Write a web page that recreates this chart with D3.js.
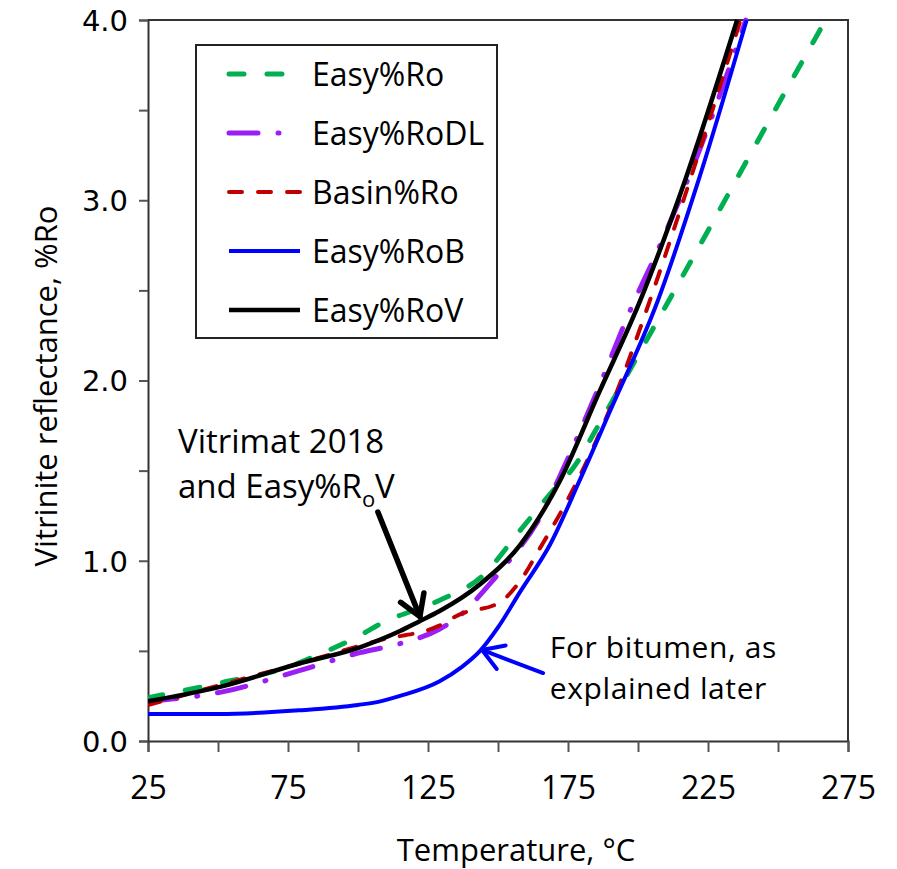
<!DOCTYPE html>
<html>
<head>
<meta charset="utf-8">
<script src="https://cdn.jsdelivr.net/npm/d3@7"></script>
<style>
  body { margin: 0; background: #fff; }
  .txt { font-family: "Open Sans", "Noto Sans", sans-serif; fill: #000; }
  .ytick text { font-family: "DejaVu Sans", Verdana, sans-serif; font-size: 29px; fill: #000; }
  .xtick text { font-family: "Open Sans", "Noto Sans", sans-serif; font-size: 32px; fill: #000; }
</style>
</head>
<body>
<div id="chart"></div>
<script>
// Curves: [temperature °C, %Ro]
var easyRo = [[25,0.24],[50,0.32],[75,0.41],[86,0.48],[100,0.58],[108,0.65],[129,0.78],[144,0.91],
    [158,1.17],[168.6,1.37],[178,1.54],[184,1.70],[204,2.25],[224.6,2.82],[244.6,3.38],[267,4.0]];
var easyRoDL = [[25,0.22],[50.7,0.27],[79,0.39],[100.7,0.49],[115,0.54],[129,0.62],[136,0.69],[147,0.87],
    [154,1.0],[165,1.24],[173,1.50],[187,2.0],[197.5,2.40],[207,2.72],[222,3.28],[238.5,4.0]];
var basinRo = [[25,0.20],[50.7,0.31],[79,0.43],[108,0.56],[129,0.64],[136,0.70],[150.7,0.77],[158,0.89],
    [165,1.07],[174.6,1.33],[182,1.56],[194,2.0],[201,2.30],[220,3.18],[236.6,4.0]];
var easyRoB = [[25,0.15],[50,0.15],[79,0.17],[100,0.20],[108,0.22],[115,0.25],[129,0.33],[137,0.41],
    [143.6,0.50],[150,0.63],[158,0.83],[168.6,1.09],[179,1.44],[190,1.83],[207,2.44],[221.6,3.11],[238.8,4.0]];
var easyRoV = [[25,0.22],[50.7,0.30],[79,0.43],[100.7,0.52],[115,0.61],[122,0.665],[129,0.72],[143.6,0.87],
    [158,1.09],[172,1.44],[186,1.93],[200.7,2.44],[216.8,3.11],[235.4,4.0]];

var seriesNames = ["Easy%Ro", "Easy%RoDL", "Basin%Ro", "Easy%RoB", "Easy%RoV"];
var xTicks = [25, 50, 75, 100, 125, 150, 175, 200, 225, 250, 275];
var xLabels = [25, 75, 125, 175, 225, 275];
var yTicks = [0, 0.5, 1, 1.5, 2, 2.5, 3, 3.5, 4];
var yLabels = [0, 1, 2, 3, 4];

var series = [
    { name: seriesNames[0], data: easyRo,   color: "#00b050", width: 5,   dash: "15,23",      sample: 71 },
    { name: seriesNames[1], data: easyRoDL, color: "#9b1ff5", width: 5,   dash: "29,20,1,20", sample: 50 },
    { name: seriesNames[2], data: basinRo,  color: "#c00000", width: 4,   dash: "13,16",      sample: 71 },
    { name: seriesNames[3], data: easyRoB,  color: "#0000ff", width: 4,   dash: null,         sample: 71 },
    { name: seriesNames[4], data: easyRoV,  color: "#000000", width: 4.5, dash: null,         sample: 71 }
];

var svgWidth = 897;
var svgHeight = 869;
var margin = { top: 20, right: 49, bottom: 128, left: 148 };
var width = svgWidth - margin.left - margin.right;
var height = svgHeight - margin.top - margin.bottom;

var svg = d3.select("#chart")
    .append("svg")
    .attr("width", svgWidth)
    .attr("height", svgHeight);

var chartGroup = svg.append("g")
    .attr("transform", `translate(${margin.left}, ${margin.top})`);

var xScale = d3.scaleLinear().domain([25, 275]).range([0, width]);
var yScale = d3.scaleLinear().domain([0, 4]).range([height, 0]);

// frame on top and right
chartGroup.append("path")
    .attr("d", `M0,0H${width}V${height}`)
    .attr("fill", "none")
    .attr("stroke", "#333")
    .attr("stroke-width", 2);

// x axis
var bottomAxis = d3.axisBottom(xScale)
    .tickValues(xTicks)
    .tickSize(11)
    .tickPadding(24)
    .tickFormat(d => xLabels.indexOf(d) >= 0 ? d : "");
chartGroup.append("g")
    .attr("class", "xtick")
    .attr("transform", `translate(0, ${height})`)
    .call(bottomAxis)
    .call(g => g.select(".domain").attr("stroke", "#333").attr("stroke-width", 2))
    .call(g => g.selectAll(".tick line").attr("stroke", "#555").attr("stroke-width", 2));

// y axis
var leftAxis = d3.axisLeft(yScale)
    .tickValues(yTicks)
    .tickSize(9)
    .tickPadding(11)
    .tickFormat(d => yLabels.indexOf(d) >= 0 ? d3.format(".1f")(d) : "");
chartGroup.append("g")
    .attr("class", "ytick")
    .call(leftAxis)
    .call(g => g.select(".domain").attr("stroke", "#333").attr("stroke-width", 2))
    .call(g => g.selectAll(".tick line").attr("stroke", "#555").attr("stroke-width", 2))
    .call(g => g.selectAll(".tick text").attr("dy", "0.36em"));

// curves
var line = d3.line()
    .x(d => xScale(d[0]))
    .y(d => yScale(d[1]))
    .curve(d3.curveMonotoneX);

svg.append("clipPath").attr("id", "plotclip")
    .append("rect").attr("x", 0).attr("y", -3).attr("width", width).attr("height", height + 3);

chartGroup.append("g")
    .attr("clip-path", "url(#plotclip)")
    .selectAll("path")
    .data(series)
    .enter()
    .append("path")
    .attr("d", s => line(s.data))
    .attr("fill", "none")
    .attr("stroke", s => s.color)
    .attr("stroke-width", s => s.width)
    .attr("stroke-linecap", s => s.dash ? "round" : "butt")
    .attr("stroke-dasharray", s => s.dash);

// legend
var legend = svg.append("g").attr("transform", "translate(196, 45)");
legend.append("rect")
    .attr("width", 301).attr("height", 293)
    .attr("fill", "#fff").attr("stroke", "#222").attr("stroke-width", 2);

var rows = legend.selectAll("g.row")
    .data(series)
    .enter()
    .append("g")
    .attr("class", "row")
    .attr("transform", (d, i) => `translate(0, ${29 + i * 59})`);

rows.append("line")
    .attr("x1", 33).attr("x2", d => 33 + d.sample)
    .attr("stroke", d => d.color)
    .attr("stroke-width", d => d.width)
    .attr("stroke-linecap", d => d.dash ? "round" : "butt")
    .attr("stroke-dasharray", d => d.dash);

rows.append("text")
    .attr("class", "txt")
    .attr("x", 116)
    .attr("y", 12)
    .style("font-size", "32px")
    .text(d => d.name);

// axis titles
svg.append("text")
    .attr("class", "txt")
    .attr("x", 516)
    .attr("y", 861)
    .attr("text-anchor", "middle")
    .style("font-size", "31px")
    .text("Temperature, \u00B0C");

svg.append("text")
    .attr("class", "txt")
    .attr("transform", "translate(57, 386) rotate(-90)")
    .attr("text-anchor", "middle")
    .style("font-size", "31px")
    .text("Vitrinite reflectance, %Ro");

// annotations
function arrow(from, to, color, w) {
    var x0 = xScale(from[0]), y0 = yScale(from[1]);
    var x1 = xScale(to[0]), y1 = yScale(to[1]);
    var ang = Math.atan2(y1 - y0, x1 - x0);
    var len = 24, spread = 0.55;
    var g = chartGroup.append("g")
        .attr("fill", "none").attr("stroke", color).attr("stroke-width", w)
        .attr("stroke-linecap", "round").attr("stroke-linejoin", "round");
    g.append("line").attr("x1", x0).attr("y1", y0).attr("x2", x1).attr("y2", y1);
    g.append("path").attr("d",
        `M${x1 - len * Math.cos(ang - spread)},${y1 - len * Math.sin(ang - spread)}` +
        `L${x1},${y1}` +
        `L${x1 - len * Math.cos(ang + spread)},${y1 - len * Math.sin(ang + spread)}`);
}

arrow([107.1, 1.27], [122.1, 0.69], "#000", 5.5);
arrow([166.1, 0.377], [144.3, 0.505], "#0000ff", 4);

var note1 = chartGroup.append("text")
    .attr("class", "txt")
    .style("font-size", "33px");
note1.append("tspan").attr("x", xScale(35.7)).attr("y", yScale(1.60)).text("Vitrimat 2018");
note1.append("tspan").attr("x", xScale(35.7)).attr("y", yScale(1.35)).text("and Easy%R");
note1.append("tspan").attr("dy", 9).style("font-size", "22px").text("o");
note1.append("tspan").attr("dy", -9).text("V");

var note2 = chartGroup.append("text")
    .attr("class", "txt")
    .style("font-size", "30px")
    .style("letter-spacing", "0.6px");
note2.append("tspan").attr("x", xScale(168.5)).attr("y", yScale(0.4605)).text("For bitumen, as");
note2.append("tspan").attr("x", xScale(168.5)).attr("y", yScale(0.232)).text("explained later");
</script>
</body>
</html>
